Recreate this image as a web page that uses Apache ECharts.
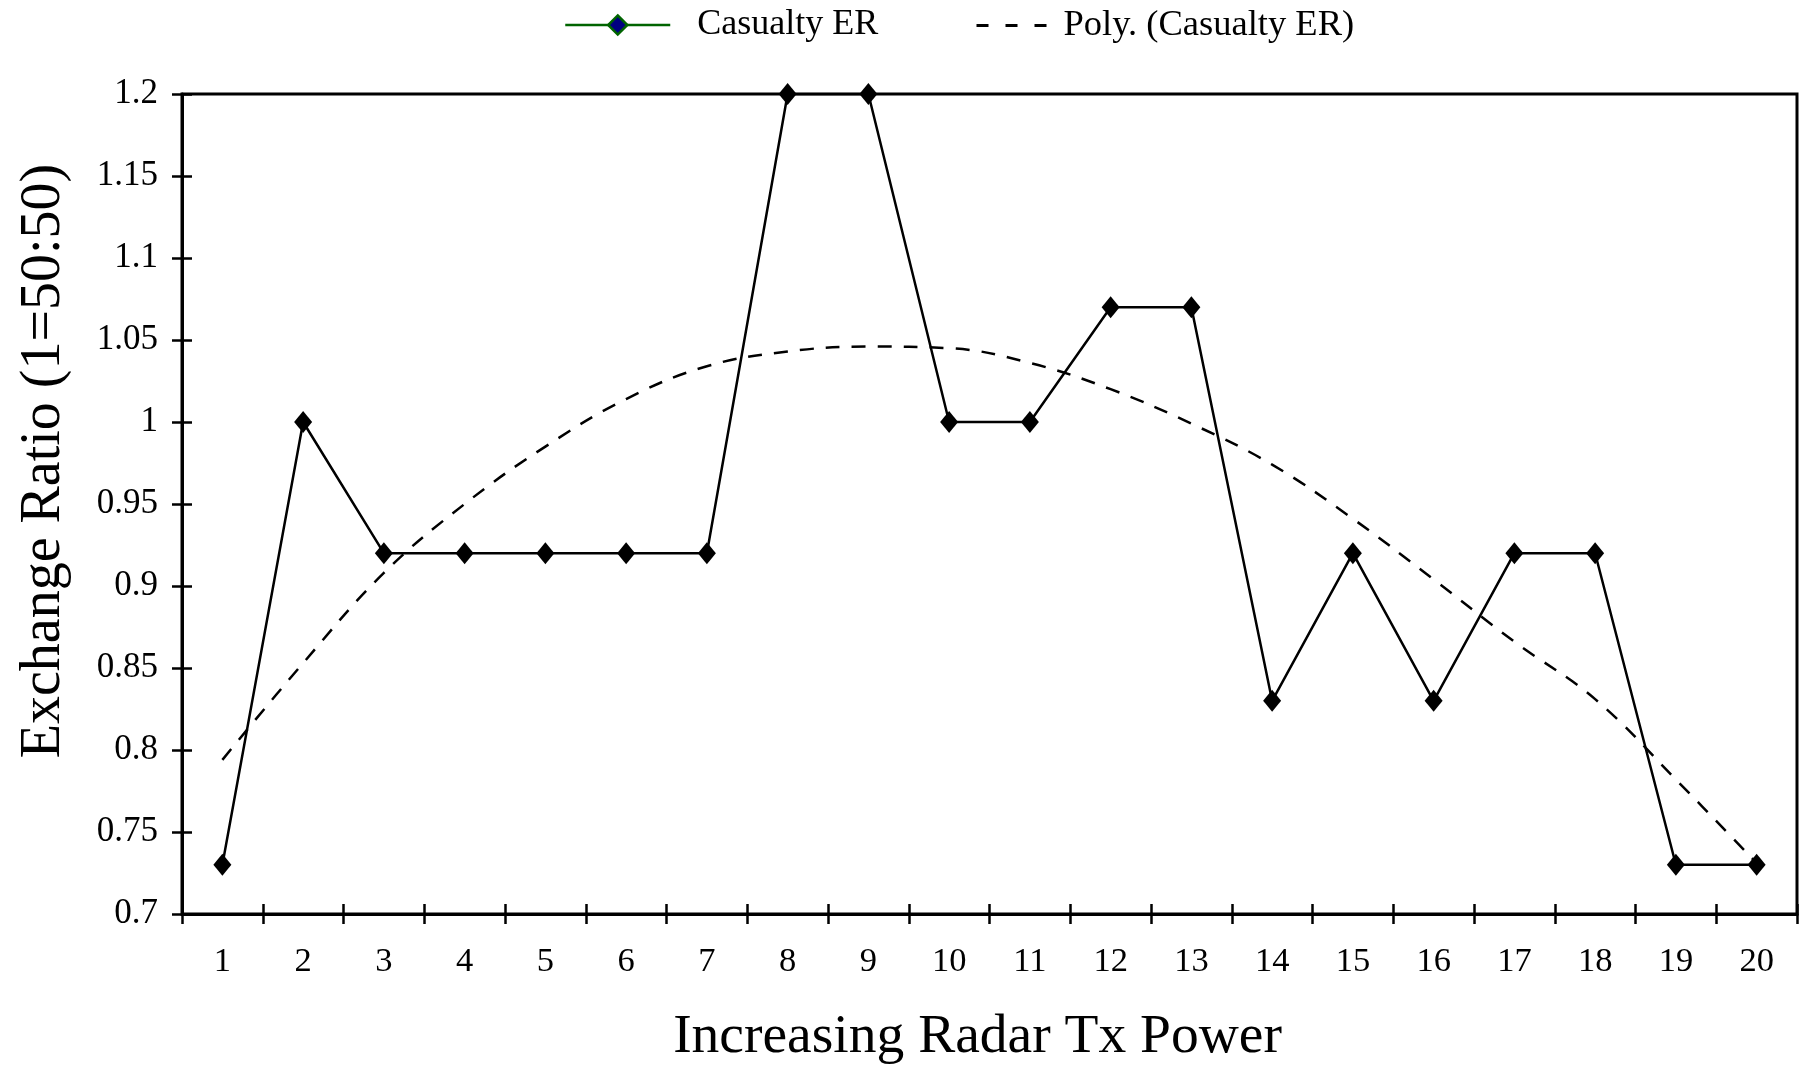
<!DOCTYPE html>
<html>
<head>
<meta charset="utf-8">
<script src="https://cdn.jsdelivr.net/npm/echarts@6/dist/echarts.min.js"></script>
<style>
  html, body { margin: 0; padding: 0; background: #fff; }
  #chart { width: 1800px; height: 1068px; }
</style>
</head>
<body>
<div id="chart"></div>
<script>
// x axis categories: radar tx power steps
var powerSteps = ['1','2','3','4','5','6','7','8','9','10','11','12','13','14','15','16','17','18','19','20'];
// casualty exchange ratio
var casualtyER = [0.73, 1.0, 0.92, 0.92, 0.92, 0.92, 0.92, 1.2, 1.2, 1.0, 1.0, 1.07, 1.07, 0.83, 0.92, 0.83, 0.92, 0.92, 0.73, 0.73];
// polynomial trend line, read at each step
var polyTrend = [0.794, 0.853, 0.908, 0.950, 0.985, 1.014, 1.034, 1.043, 1.046, 1.045, 1.036, 1.020, 0.999, 0.974, 0.941, 0.904, 0.866, 0.831, 0.782, 0.731];
// y axis range
var yMin = 0.7, yMax = 1.2, yStep = 0.05;

var FONT = "'Liberation Serif', 'Times New Roman', serif";

function drawChart() {
    var tickStyle = {color: '#000', width: 2.5};
    var option = {
        backgroundColor: '#fff',
        animation: false,
        grid: {left: 182, right: 3, top: 94, bottom: 154, show: true, borderColor: '#000', borderWidth: 3,
            outerBoundsMode: 'none', containLabel: false},
        legend: [{
            left: 559, top: 2, itemWidth: 105, itemHeight: 24,
            textStyle: {fontFamily: FONT, fontSize: 36, color: '#000', padding: [0, 0, 0, 22]},
            data: [{name: 'Casualty ER',
                itemStyle: {color: '#000080', borderColor: '#006400', borderWidth: 2.5},
                lineStyle: {color: '#006400', width: 2.5}}]
        }, {
            left: 970, top: 2, itemWidth: 71, itemHeight: 24,
            textStyle: {fontFamily: FONT, fontSize: 36.5, color: '#000', padding: [0, 0, 0, 11]},
            data: [{name: 'Poly. (Casualty ER)',
                itemStyle: {color: 'rgba(0,0,0,0)', borderWidth: 0},
                lineStyle: {color: '#000', width: 3, type: [12, 17]}}]
        }],
        xAxis: [{
            type: 'category', data: powerSteps, boundaryGap: true,
            name: 'Increasing Radar Tx Power', nameLocation: 'middle', nameGap: 95, nameMoveOverlap: false,
            nameTextStyle: {fontFamily: FONT, fontSize: 55.5, color: '#000', padding: [0, 24, 0, 0]},
            axisLine: {lineStyle: {color: '#000', width: 3}},
            axisTick: {show: true, interval: 0, length: 10, lineStyle: tickStyle},
            axisLabel: {interval: 0, margin: 30, fontFamily: FONT, fontSize: 34.5, color: '#000'},
            splitLine: {show: false}
        }, {
            type: 'category', data: powerSteps, boundaryGap: true, position: 'bottom',
            axisLine: {show: false},
            axisTick: {show: true, inside: true, interval: 0, length: 10, lineStyle: tickStyle},
            axisLabel: {show: false}, splitLine: {show: false}
        }],
        yAxis: [{
            type: 'value', min: yMin, max: yMax, interval: yStep,
            name: 'Exchange Ratio (1=50:50)', nameLocation: 'middle', nameGap: 110, nameRotate: 90,
            nameMoveOverlap: false,
            nameTextStyle: {fontFamily: FONT, fontSize: 56, color: '#000', padding: [0, 0, 0, 86]},
            axisLine: {show: true, lineStyle: {color: '#000', width: 3}},
            axisTick: {show: true, length: 10, lineStyle: tickStyle},
            axisLabel: {margin: 24, fontFamily: FONT, fontSize: 35, color: '#000',
                formatter: function (v) { return String(Math.round(v * 100) / 100); }},
            splitLine: {show: false}
        }, {
            type: 'value', min: yMin, max: yMax, interval: yStep, position: 'left',
            axisLine: {show: false},
            axisTick: {show: true, inside: true, length: 10, lineStyle: tickStyle},
            axisLabel: {show: false}, splitLine: {show: false}
        }],
        series: [{
            name: 'Casualty ER', type: 'line', xAxisIndex: 0, yAxisIndex: 0,
            data: casualtyER,
            symbol: 'diamond', symbolSize: [18, 22],
            itemStyle: {color: '#000'},
            lineStyle: {color: '#000', width: 2.5},
            z: 3
        }, {
            name: 'Poly. (Casualty ER)', type: 'line', xAxisIndex: 0, yAxisIndex: 0,
            data: polyTrend, smooth: 0.4,
            symbol: 'none',
            itemStyle: {color: '#000'},
            lineStyle: {color: '#000', width: 2.5, type: [14, 12]},
            z: 2
        }]
    };
    var myChart = echarts.init(document.getElementById('chart'));
    myChart.setOption(option);
}

drawChart();
</script>
</body>
</html>
